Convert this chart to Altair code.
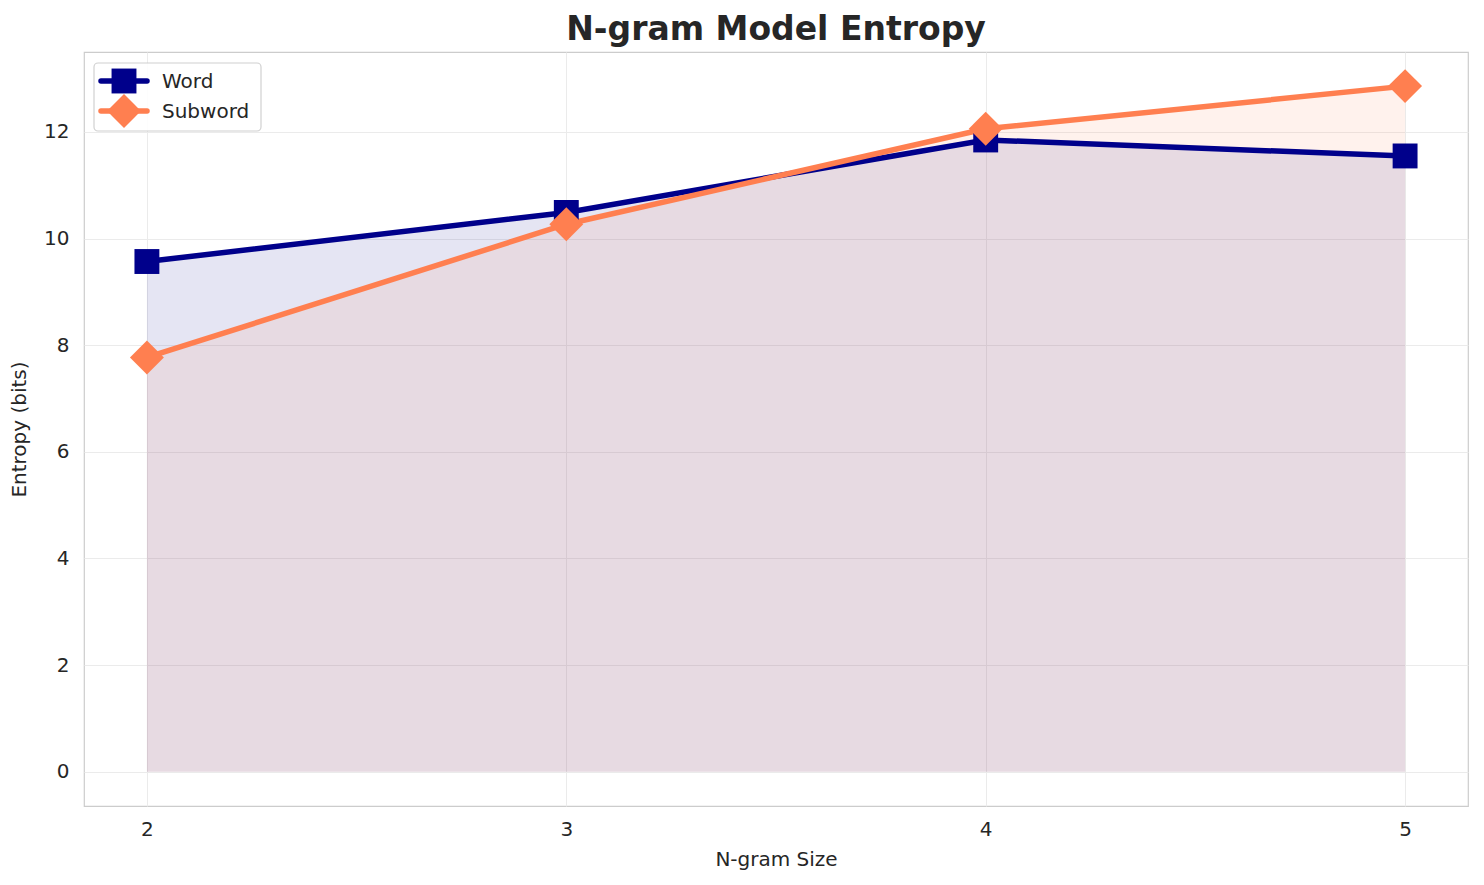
import altair as alt
import pandas as pd

ngram = [2, 3, 4, 5]
word = [9.57, 10.49, 11.85, 11.55]
subword = [7.77, 10.27, 12.06, 12.86]

df = pd.DataFrame({
    "n": ngram * 2,
    "entropy": word + subword,
    "model": ["Word"] * 4 + ["Subword"] * 4,
})
dw = df[df.model == "Word"]
ds = df[df.model == "Subword"]

NAVY = "#00008B"
CORAL = "#FF7F50"

xs = alt.Scale(domain=[1.85, 5.15], nice=False, zero=False)
ys = alt.Scale(domain=[-0.643, 13.5], nice=False, zero=False)

X = alt.X("n:Q", scale=xs, title="N-gram Size",
          axis=alt.Axis(values=ngram, format="d", labelPadding=13, titlePadding=10, grid=True))
Y = alt.Y("entropy:Q", scale=ys, title="Entropy (bits)",
          axis=alt.Axis(values=[0, 2, 4, 6, 8, 10, 12], labelPadding=15, titlePadding=14, grid=True))

def series(d, color, shape, size):
    area = alt.Chart(d).mark_area(color=color, opacity=0.1).encode(x=X, y=Y)
    line = alt.Chart(d).mark_line(color=color, strokeWidth=5.5).encode(x=X, y=Y)
    pts = alt.Chart(d).mark_point(color=color, filled=True, opacity=1, shape=shape, size=size).encode(x=X, y=Y)
    return area, line, pts

wa, wl, wp = series(dw, NAVY, "square", 620)
sa, sl, sp = series(ds, CORAL, "diamond", 1150)

one = pd.DataFrame({"a": [0]})
# Legend (drawn manually so line + marker appear together)
leg_box = alt.Chart(one).mark_rect(
    fill="white", stroke="#cccccc", strokeWidth=1.2, cornerRadius=4, opacity=0.9
).encode(x=alt.value(10), x2=alt.value(177), y=alt.value(11), y2=alt.value(79))

leg_rule_w = alt.Chart(one).mark_rule(color=NAVY, strokeWidth=5.5, strokeCap="round").encode(
    x=alt.value(17), x2=alt.value(63), y=alt.value(29))
leg_rule_s = alt.Chart(one).mark_rule(color=CORAL, strokeWidth=5.5, strokeCap="round").encode(
    x=alt.value(17), x2=alt.value(63), y=alt.value(59))
leg_pt_w = alt.Chart(one).mark_point(color=NAVY, filled=True, opacity=1, shape="square", size=620).encode(
    x=alt.value(40), y=alt.value(29))
leg_pt_s = alt.Chart(one).mark_point(color=CORAL, filled=True, opacity=1, shape="diamond", size=1150).encode(
    x=alt.value(40), y=alt.value(59))
leg_txt_w = alt.Chart(one).mark_text(text="Word", align="left", baseline="middle",
                                     fontSize=20, color="#262626", font="DejaVu Sans").encode(
    x=alt.value(78), y=alt.value(30))
leg_txt_s = alt.Chart(one).mark_text(text="Subword", align="left", baseline="middle",
                                     fontSize=20, color="#262626", font="DejaVu Sans").encode(
    x=alt.value(78), y=alt.value(60))

chart = alt.layer(
    wa, sa, wl, sl, wp, sp,
    leg_box, leg_rule_w, leg_rule_s, leg_pt_w, leg_pt_s, leg_txt_w, leg_txt_s,
).properties(
    width=1384, height=754,
    background="white",
    title=alt.TitleParams("N-gram Model Entropy", fontSize=33, fontWeight="bold",
                          font="DejaVu Sans", color="#262626", anchor="middle", offset=5),
    autosize=alt.AutoSizeParams(type="none"),
    padding={"left": 76, "top": 44, "right": 8, "bottom": 70},
).configure_view(
    stroke="#cccccc", strokeWidth=1.2
).configure_axis(
    domain=False, ticks=False, gridColor="#ebebeb", gridWidth=1,
    labelFont="DejaVu Sans", titleFont="DejaVu Sans",
    labelColor="#262626", titleColor="#262626", titleFontWeight="normal",
    labelFontSize=20, titleFontSize=20,
)

chart.save("out.html", embed_options={"renderer": "svg", "actions": False})
